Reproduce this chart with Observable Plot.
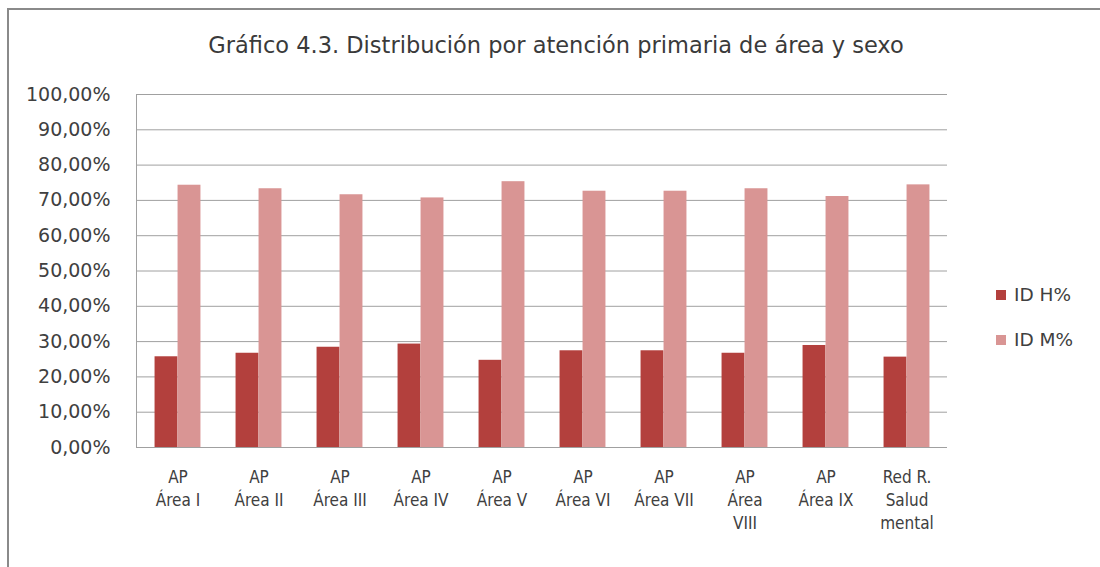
<!DOCTYPE html>
<html>
<head>
<meta charset="utf-8">
<script src="https://cdn.jsdelivr.net/npm/d3@7"></script>
<script src="https://cdn.jsdelivr.net/npm/@observablehq/plot@0.6"></script>
<style>
  html, body { margin: 0; padding: 0; background: #fff; }
  #wrap { position: relative; width: 1100px; height: 567px; overflow: hidden; }
  #border { position: absolute; left: 7px; top: 8px; width: 1200px; height: 700px; border: 2px solid #8a8a8a; box-sizing: border-box; }
  #title { position: absolute; left: 0; width: 1112px; top: 32px; text-align: center; font-family: "DejaVu Sans", sans-serif; font-size: 22.5px; color: #3a3a3a; }
  .leg { position: absolute; left: 996px; font-family: "DejaVu Sans", sans-serif; font-size: 18.5px; color: #404040; display: flex; align-items: center; }
  .leg span.sw { display: inline-block; width: 10px; height: 10px; margin-right: 8px; }
  #chart { position: absolute; left: 0; top: 0; }
</style>
</head>
<body>
<div id="wrap">
  <div id="border"></div>
  <div id="chart"></div>
  <div id="title">Gráfico 4.3. Distribución por atención primaria de área y sexo</div>
  <div class="leg" style="top:284px"><span class="sw" style="background:#b3403d"></span>ID H%</div>
  <div class="leg" style="top:329px"><span class="sw" style="background:#d99594"></span>ID M%</div>
</div>
<script>
const categories = ["AP Área I", "AP Área II", "AP Área III", "AP Área IV", "AP Área V", "AP Área VI", "AP Área VII", "AP Área VIII", "AP Área IX", "Red R. Salud mental"];
const tickLabels = ["AP\nÁrea I", "AP\nÁrea II", "AP\nÁrea III", "AP\nÁrea IV", "AP\nÁrea V", "AP\nÁrea VI", "AP\nÁrea VII", "AP\nÁrea\nVIII", "AP\nÁrea IX", "Red R.\nSalud\nmental"];
const seriesNames = ["ID H%", "ID M%"];
const valuesH = [25.7, 26.7, 28.4, 29.3, 24.7, 27.4, 27.4, 26.7, 28.9, 25.6];
const valuesM = [74.3, 73.3, 71.6, 70.7, 75.3, 72.6, 72.6, 73.3, 71.1, 74.4];
const yTicks = [0, 10, 20, 30, 40, 50, 60, 70, 80, 90, 100];
const colors = ["#b3403d", "#d99594"];

const W = 1100, H = 567, mL = 136, mR = 153, mT = 94, mB = 120;
const bw = (W - mL - mR) / categories.length;
const barW = 23;
const outer = (bw - 2 * barW) / 2;

const dataH = categories.map((c, i) => ({cat: c, series: seriesNames[0], value: valuesH[i]}));
const dataM = categories.map((c, i) => ({cat: c, series: seriesNames[1], value: valuesM[i]}));

const fmt = d => d.toFixed(2).replace(".", ",") + "%";

const chart = Plot.plot({
  width: W, height: H,
  marginLeft: mL, marginRight: mR, marginTop: mT, marginBottom: mB,
  style: {background: "transparent", fontFamily: "DejaVu Sans, sans-serif", color: "#404040"},
  x: {domain: categories, padding: 0, label: null},
  y: {domain: [0, 100], label: null},
  marks: [
    Plot.gridY(yTicks, {stroke: "#a0a0a0", strokeOpacity: 1}),
    Plot.frame({anchor: "left", stroke: "#a0a0a0"}),
    Plot.barY(dataH, {x: "cat", y: "value", fill: colors[0], insetLeft: outer, insetRight: outer + barW}),
    Plot.barY(dataM, {x: "cat", y: "value", fill: colors[1], insetLeft: outer + barW, insetRight: outer}),
    Plot.axisY(yTicks, {label: null, tickSize: 0, tickPadding: 26, tickFormat: fmt, fontSize: 19, fill: "#404040"}),
    Plot.axisX({label: null, tickSize: 0, tickPadding: 19, tickFormat: (d) => tickLabels[categories.indexOf(d)], fontSize: 17, lineHeight: 1.35, fontFamily: "DejaVu Sans Condensed, sans-serif", fill: "#404040"})
  ]
});
document.getElementById("chart").appendChild(chart);
</script>
</body>
</html>
